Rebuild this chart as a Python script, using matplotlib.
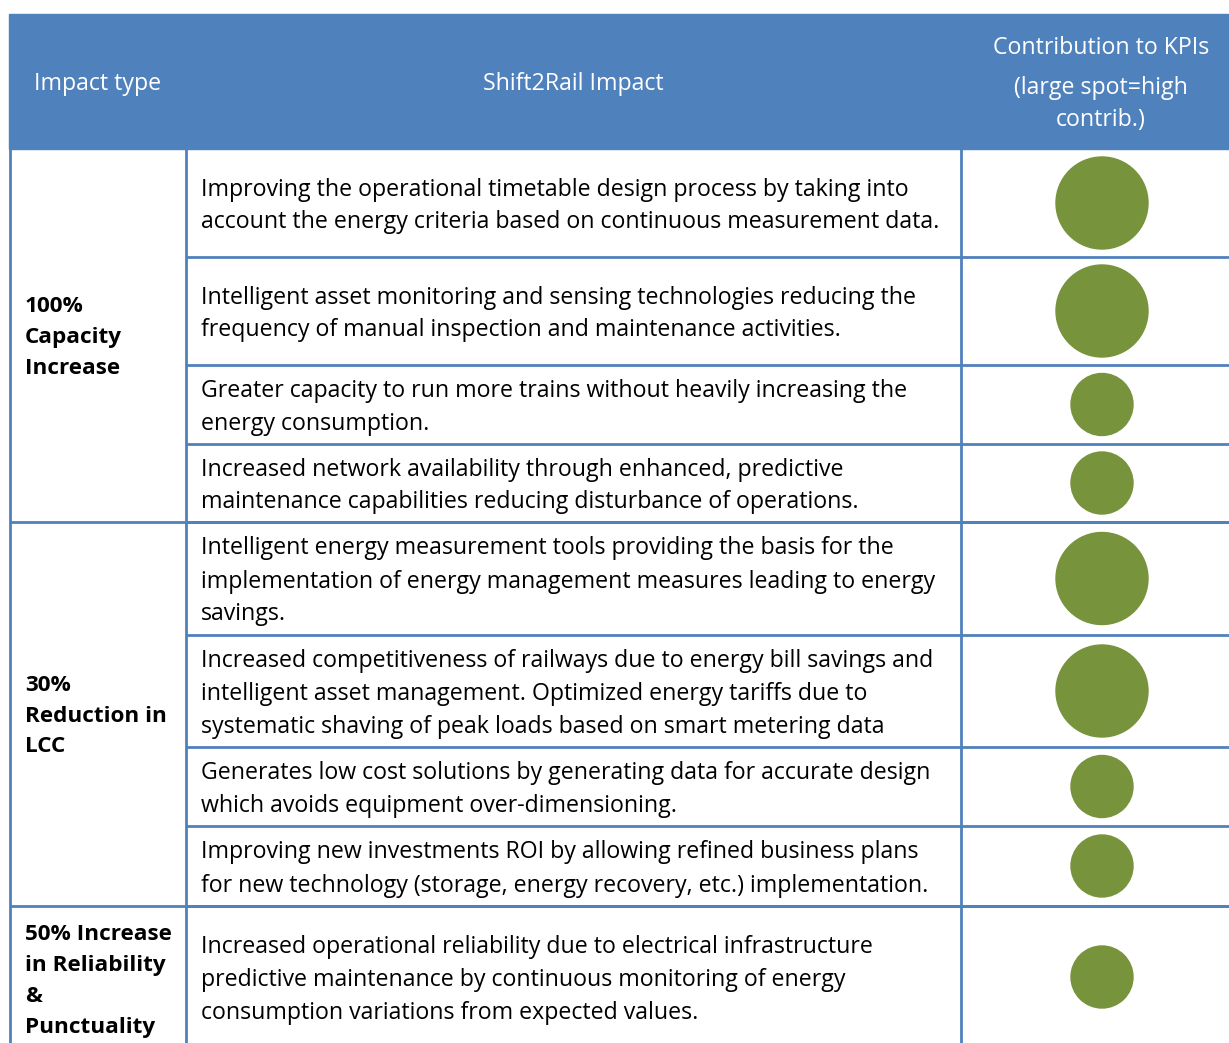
import matplotlib.pyplot as plt
from matplotlib.patches import Rectangle, Circle

plt.rcParams['font.family'] = ['Open Sans', 'DejaVu Sans']

blue = "#4F81BD"
green = "#77933C"

headers = ["Impact type", "Shift2Rail Impact", "Contribution to KPIs", "(large spot=high\ncontrib.)"]

groups = ["100%\nCapacity\nIncrease", "30%\nReduction in\nLCC", "50% Increase\nin Reliability\n&\nPunctuality"]
group_rows = [4, 4, 1]

impacts = [
    "Improving the operational timetable design process by taking into\naccount the energy criteria based on continuous measurement data.",
    "Intelligent asset monitoring and sensing technologies reducing the\nfrequency of manual inspection and maintenance activities.",
    "Greater capacity to run more trains without heavily increasing the\nenergy consumption.",
    "Increased network availability through enhanced, predictive\nmaintenance capabilities reducing disturbance of operations.",
    "Intelligent energy measurement tools providing the basis for the\nimplementation of energy management measures leading to energy\nsavings.",
    "Increased competitiveness of railways due to energy bill savings and\nintelligent asset management. Optimized energy tariffs due to\nsystematic shaving of peak loads based on smart metering data",
    "Generates low cost solutions by generating data for accurate design\nwhich avoids equipment over-dimensioning.",
    "Improving new investments ROI by allowing refined business plans\nfor new technology (storage, energy recovery, etc.) implementation.",
    "Increased operational reliability due to electrical infrastructure\npredictive maintenance by continuous monitoring of energy\nconsumption variations from expected values.",
]
# contribution: 2 = high (large spot), 1 = normal
contribution = [2, 2, 1, 1, 2, 2, 1, 1, 1]

# layout in pixels
W, H = 1229, 1043
x0, x1, x2, x3 = 10, 186, 961, 1229
head_top, head_bot = 14, 149
row_edges = [149, 257, 365, 444, 522, 635, 747, 826, 906, 1050]
radius = {2: 46, 1: 31}

fig = plt.figure(figsize=(W / 100, H / 100), dpi=100)
ax = fig.add_axes([0, 0, 1, 1])
ax.set_xlim(0, W)
ax.set_ylim(H, 0)
ax.axis("off")

fs = 16.7
fsb = 16.2
ls = 1.5

# header
ax.add_patch(Rectangle((9, head_top), W - 9, head_bot - head_top, color=blue, zorder=1))
ax.text(98, 84, headers[0], color="white", fontsize=fs, ha="center", va="center")
ax.text((x1 + x2) / 2, 84, headers[1], color="white", fontsize=fs, ha="center", va="center")
ax.text(1101, 48, headers[2], color="white", fontsize=fs, ha="center", va="center")
ax.text(1101, 104, headers[3], color="white", fontsize=fs, ha="center", va="center", linespacing=1.45)

# rows
for i, txt in enumerate(impacts):
    top, bot = row_edges[i], row_edges[i + 1]
    yc = (top + bot) / 2 if i < len(impacts) - 1 else 977
    ax.text(x1 + 15, yc + 3, txt, fontsize=fs, ha="left", va="center", linespacing=ls, color="black")
    ax.add_patch(Circle((1102, yc), radius[contribution[i]], color=green, zorder=2))
    ax.plot([x1, x3], [bot, bot], color=blue, lw=2, solid_capstyle="butt")

# group labels
r = 0
for g, n in zip(groups, group_rows):
    top, bot = row_edges[r], row_edges[r + n]
    yc = (top + bot) / 2 if r + n < len(row_edges) - 1 else 979
    ax.text(x0 + 15, yc + 2, g, fontsize=fsb, fontweight="bold", ha="left", va="center", linespacing=1.62)
    ax.plot([x0, x3], [bot, bot], color=blue, lw=2, solid_capstyle="butt")
    r += n

# vertical lines
for x in [x0, x1, x2]:
    ax.plot([x, x], [head_bot, H], color=blue, lw=2, solid_capstyle="butt")

plt.savefig("out.png", dpi=100)
